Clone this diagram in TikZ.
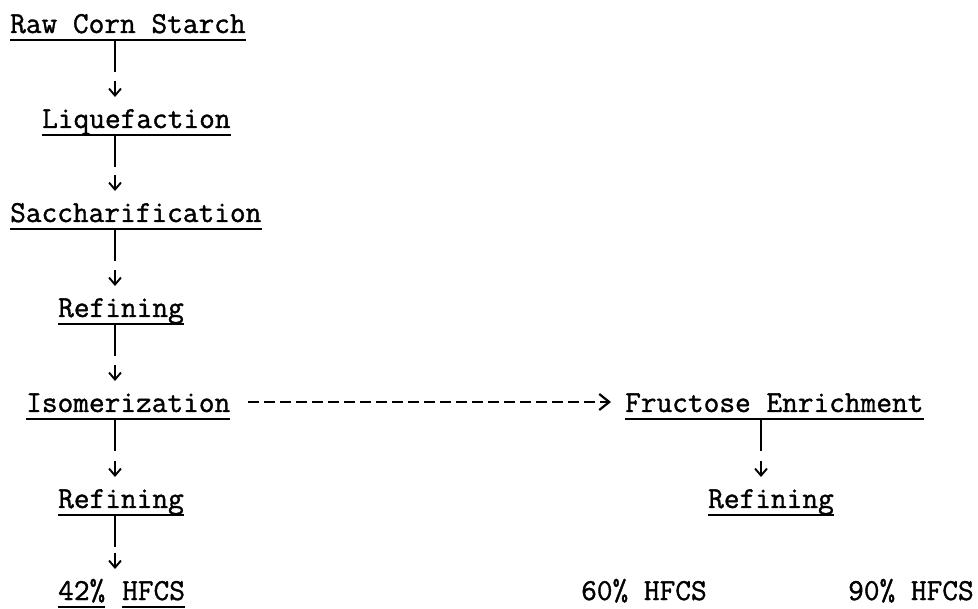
\documentclass[tikz,border=0pt]{standalone}
\usepackage{fontspec}
\newfontfamily\twfont{Latin Modern Mono}[FakeBold=1.2]
\usetikzlibrary{arrows.meta,calc}
\newcommand\flowdown[3]{%
  \draw[vline] ($(#1 |- #2.base)+(0,7)$) -- ($(#1 |- #2.base)+(0,39)$);
  \draw[darr] ($(#1 |- #3.base)+(0,-47)$) -- ($(#1 |- #3.base)+(0,-31)$);}
\begin{document}
\begin{tikzpicture}[x=1pt,y=-1pt,
  lbl/.style={anchor=base west, inner sep=0pt, font=\twfont\fontsize{30.48}{36}\selectfont},
  uline/.style={line width=2.8pt},
  vline/.style={line width=1.7pt},
  darr/.style={line width=1.9pt, -{Straight Barb[length=7pt,width=12pt]}},
  dashconn/.style={dash pattern=on 11pt off 5pt, line width=2.8pt,
    -{Straight Barb[length=10pt,width=16pt,line width=2.2pt]}}
]
\useasboundingbox (0,0) rectangle (978,609);
\coordinate (cl) at (115,0);
\coordinate (cr) at (761,0);
% left column
\node[lbl] (rcs)  at (10,33)  {Raw Corn Starch};
\node[lbl] (liq)  at (42,128) {Liquefaction};
\node[lbl] (sac)  at (10,222) {Saccharification};
\node[lbl] (ref1) at (58,317) {Refining};
\node[lbl] (iso)  at (26,412) {Isomerization};
\node[lbl] (ref2) at (58,508) {Refining};
\node[lbl] (p42)  at (58,600) {42\%};
\node[lbl] (hfcs) at (122,600) {HFCS};
% right column
\node[lbl] (fe)   at (625,412) {Fructose Enrichment};
\node[lbl] (ref3) at (708,508) {Refining};
\node[lbl] (p60)  at (581,600) {60\% HFCS};
\node[lbl] (p90)  at (848,600) {90\% HFCS};
% underlines
\foreach \n in {rcs,liq,sac,ref1,iso,ref2,p42,hfcs,fe,ref3}
  \draw[uline] ([yshift=-7pt]\n.base west) -- ([yshift=-7pt]\n.base east);
% connectors
\flowdown{cl}{rcs}{liq}
\flowdown{cl}{liq}{sac}
\flowdown{cl}{sac}{ref1}
\flowdown{cl}{ref1}{iso}
\flowdown{cl}{iso}{ref2}
\flowdown{cl}{ref2}{p42}
\flowdown{cr}{fe}{ref3}
\draw[dashconn] ($(iso.base east)+(18,-10)$) -- ($(fe.base west)+(-14,-10)$);
\end{tikzpicture}
\end{document}
